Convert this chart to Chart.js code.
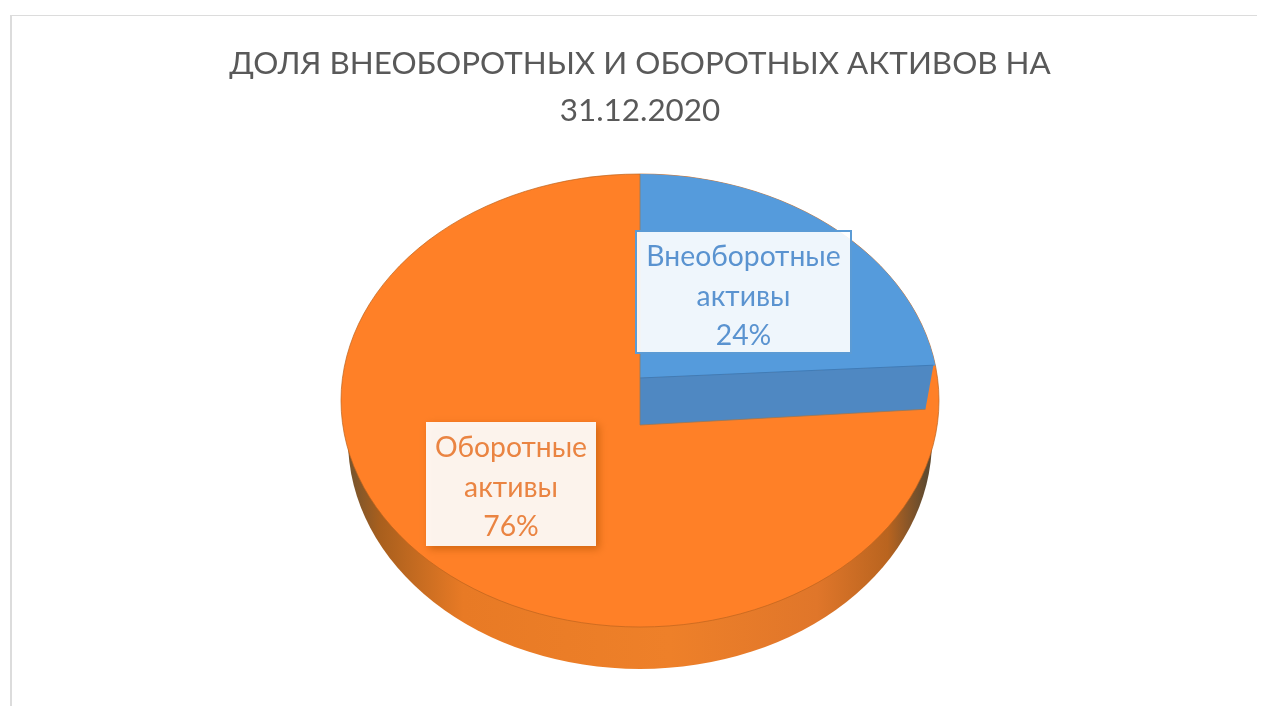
<!DOCTYPE html>
<html lang="ru">
<head>
  <meta charset="UTF-8">
  <title>Доля активов</title>
  <script src="https://cdn.jsdelivr.net/npm/chart.js"></script>
  <style>
    body { margin: 0; background: #fff; }
    #wrap { position: relative; width: 1269px; height: 706px; overflow: hidden; }
    #frame { position: absolute; left: 10px; top: 15px; width: 1245px; height: 700px; border-top: 1px solid #dcdcdc; border-left: 2px solid #dcdcdc; }
    canvas { position: absolute; left: 0; top: 0; }
  </style>
</head>
<body>
  <div id="wrap">
    <div id="frame"></div>
    <canvas id="myChart" width="1269" height="706"></canvas>
  </div>

  <script>
    const titleLines = ['ДОЛЯ ВНЕОБОРОТНЫХ И ОБОРОТНЫХ АКТИВОВ НА', '31.12.2020'];
    const categories = ['Внеоборотные активы', 'Оборотные активы'];
    const labelLines = [['Внеоборотные', 'активы'], ['Оборотные', 'активы']];
    const shares = [24, 76];
    const sliceColors = ['#559bdc', '#ff8027'];

    // Disc outline, and the apex of each slice (sits below the middle because of the tilt)
    const TOP_Y = 174;
    const BOTTOM_Y = 627;
    const MID_Y = (TOP_Y + BOTTOM_Y) / 2;
    const RY = (BOTTOM_Y - TOP_Y) / 2;
    const APEX_Y = 425;
    const BLUE_APEX_Y = 378;

    // Where a slice angle lands on the tilted disc, seen from its apex
    function edgePoint(arc, angle, apexY, rx) {
      const s = Math.sin(angle);
      const ry = s < 0 ? apexY - TOP_Y : BOTTOM_Y - apexY;
      return { x: arc.x + rx * Math.cos(angle), y: apexY + ry * s };
    }

    // The same point as a parameter on the outline ellipse
    function outlineParam(arc, angle, apexY, r) {
      const p = edgePoint(arc, angle, apexY, r);
      return Math.atan2((p.y - MID_Y) / RY, (p.x - arc.x) / r);
    }

    function wedgePath(ctx, arc, apexY) {
      const r = arc.outerRadius;
      const a = outlineParam(arc, arc.startAngle, apexY, r);
      const b = outlineParam(arc, arc.endAngle, apexY, r);
      ctx.beginPath();
      ctx.moveTo(arc.x, apexY);
      ctx.ellipse(arc.x, MID_Y, r, RY, 0, a, b);
      ctx.closePath();
    }

    const tiltedPie = {
      id: 'tiltedPie',
      beforeDatasetsDraw(chart) {
        const ctx = chart.ctx;
        const [blue, orange] = chart.getDatasetMeta(0).data;
        const r = orange.outerRadius;

        // rim of the disc
        const side = ctx.createLinearGradient(345, 0, 935, 0);
        side.addColorStop(0, '#6f5330');
        side.addColorStop(0.06, '#a95f1d');
        side.addColorStop(0.2, '#e87a25');
        side.addColorStop(0.55, '#ee8029');
        side.addColorStop(0.8, '#e0762a');
        side.addColorStop(0.92, '#b9641f');
        side.addColorStop(0.985, '#5f4a30');
        ctx.beginPath();
        ctx.ellipse(orange.x, 440, r - 7, 229, 0, 0, Math.PI);
        ctx.closePath();
        ctx.fillStyle = side;
        ctx.fill();

        // whole top face first, so a sliver stays visible beyond the cut
        ctx.beginPath();
        ctx.ellipse(orange.x, MID_Y, r, RY, 0, 0, Math.PI * 2);
        ctx.fillStyle = sliceColors[1];
        ctx.fill();
        ctx.strokeStyle = 'rgba(190,100,30,0.7)';
        ctx.lineWidth = 1;
        ctx.stroke();

        // blue slice top
        wedgePath(ctx, blue, BLUE_APEX_Y);
        ctx.fillStyle = sliceColors[0];
        ctx.fill();

        // wall under the blue slice
        const wallTop = edgePoint(blue, blue.endAngle, BLUE_APEX_Y, r - 5);
        const wallBottom = edgePoint(blue, blue.endAngle, APEX_Y, r - 13);
        ctx.beginPath();
        ctx.moveTo(blue.x, BLUE_APEX_Y);
        ctx.lineTo(wallTop.x, wallTop.y);
        ctx.lineTo(wallBottom.x, wallBottom.y);
        ctx.lineTo(blue.x, APEX_Y);
        ctx.closePath();
        ctx.fillStyle = '#4f88c2';
        ctx.fill();
        ctx.beginPath();
        ctx.moveTo(blue.x, BLUE_APEX_Y);
        ctx.lineTo(wallTop.x, wallTop.y);
        ctx.strokeStyle = '#3f7cb8';
        ctx.stroke();

        // lower edge of the cut, the big slice covers everything under it
        ctx.beginPath();
        ctx.moveTo(blue.x, TOP_Y);
        ctx.lineTo(blue.x, APEX_Y);
        ctx.lineTo(wallBottom.x, wallBottom.y);
        ctx.strokeStyle = 'rgba(150,120,90,0.8)';
        ctx.stroke();
        return false;
      },
      // datasets hook above cancels the default arcs, so labels go on at the very end
      afterDraw(chart) {
        const ctx = chart.ctx;
        const boxes = [
          { x: 636, y: 231, w: 215, h: 122, fill: 'rgba(255,255,255,0.91)', color: '#5a93d0', border: '#5b9bd5', shadow: 'rgba(0,0,0,0)' },
          { x: 426, y: 422, w: 170, h: 124, fill: 'rgba(255,255,255,0.92)', color: '#ea8442', border: null, shadow: 'rgba(170,80,0,0.6)' }
        ];
        boxes.forEach((b, i) => {
          ctx.save();
          ctx.shadowColor = b.shadow;
          ctx.shadowBlur = 8;
          ctx.shadowOffsetX = 3;
          ctx.shadowOffsetY = 3;
          ctx.fillStyle = b.fill;
          ctx.fillRect(b.x, b.y, b.w, b.h);
          ctx.restore();
          if (b.border) {
            ctx.strokeStyle = b.border;
            ctx.lineWidth = 2;
            ctx.strokeRect(b.x, b.y, b.w, b.h);
          }
          ctx.fillStyle = b.color;
          ctx.font = '28.3px Lato';
          ctx.textAlign = 'center';
          ctx.textBaseline = 'middle';
          const lines = [...labelLines[i], shares[i] + '%'];
          lines.forEach((t, k) => ctx.fillText(t, b.x + b.w / 2, b.y + 26 + k * 39.5));
        });
      }
    };

    new Chart(document.getElementById('myChart').getContext('2d'), {
      type: 'pie',
      data: {
        labels: categories,
        datasets: [{ data: shares, backgroundColor: sliceColors, borderWidth: 0 }]
      },
      options: {
        responsive: false,
        animation: false,
        radius: 299,
        layout: { padding: { left: 11 } },
        plugins: {
          legend: { display: false },
          tooltip: { enabled: false },
          title: {
            display: true,
            text: titleLines,
            color: '#595959',
            font: { family: 'Lato', size: 31.4, weight: 'normal', lineHeight: 1.5 },
            padding: { top: 40, bottom: 10 }
          }
        }
      },
      plugins: [tiltedPie]
    });
  </script>
</body>
</html>
